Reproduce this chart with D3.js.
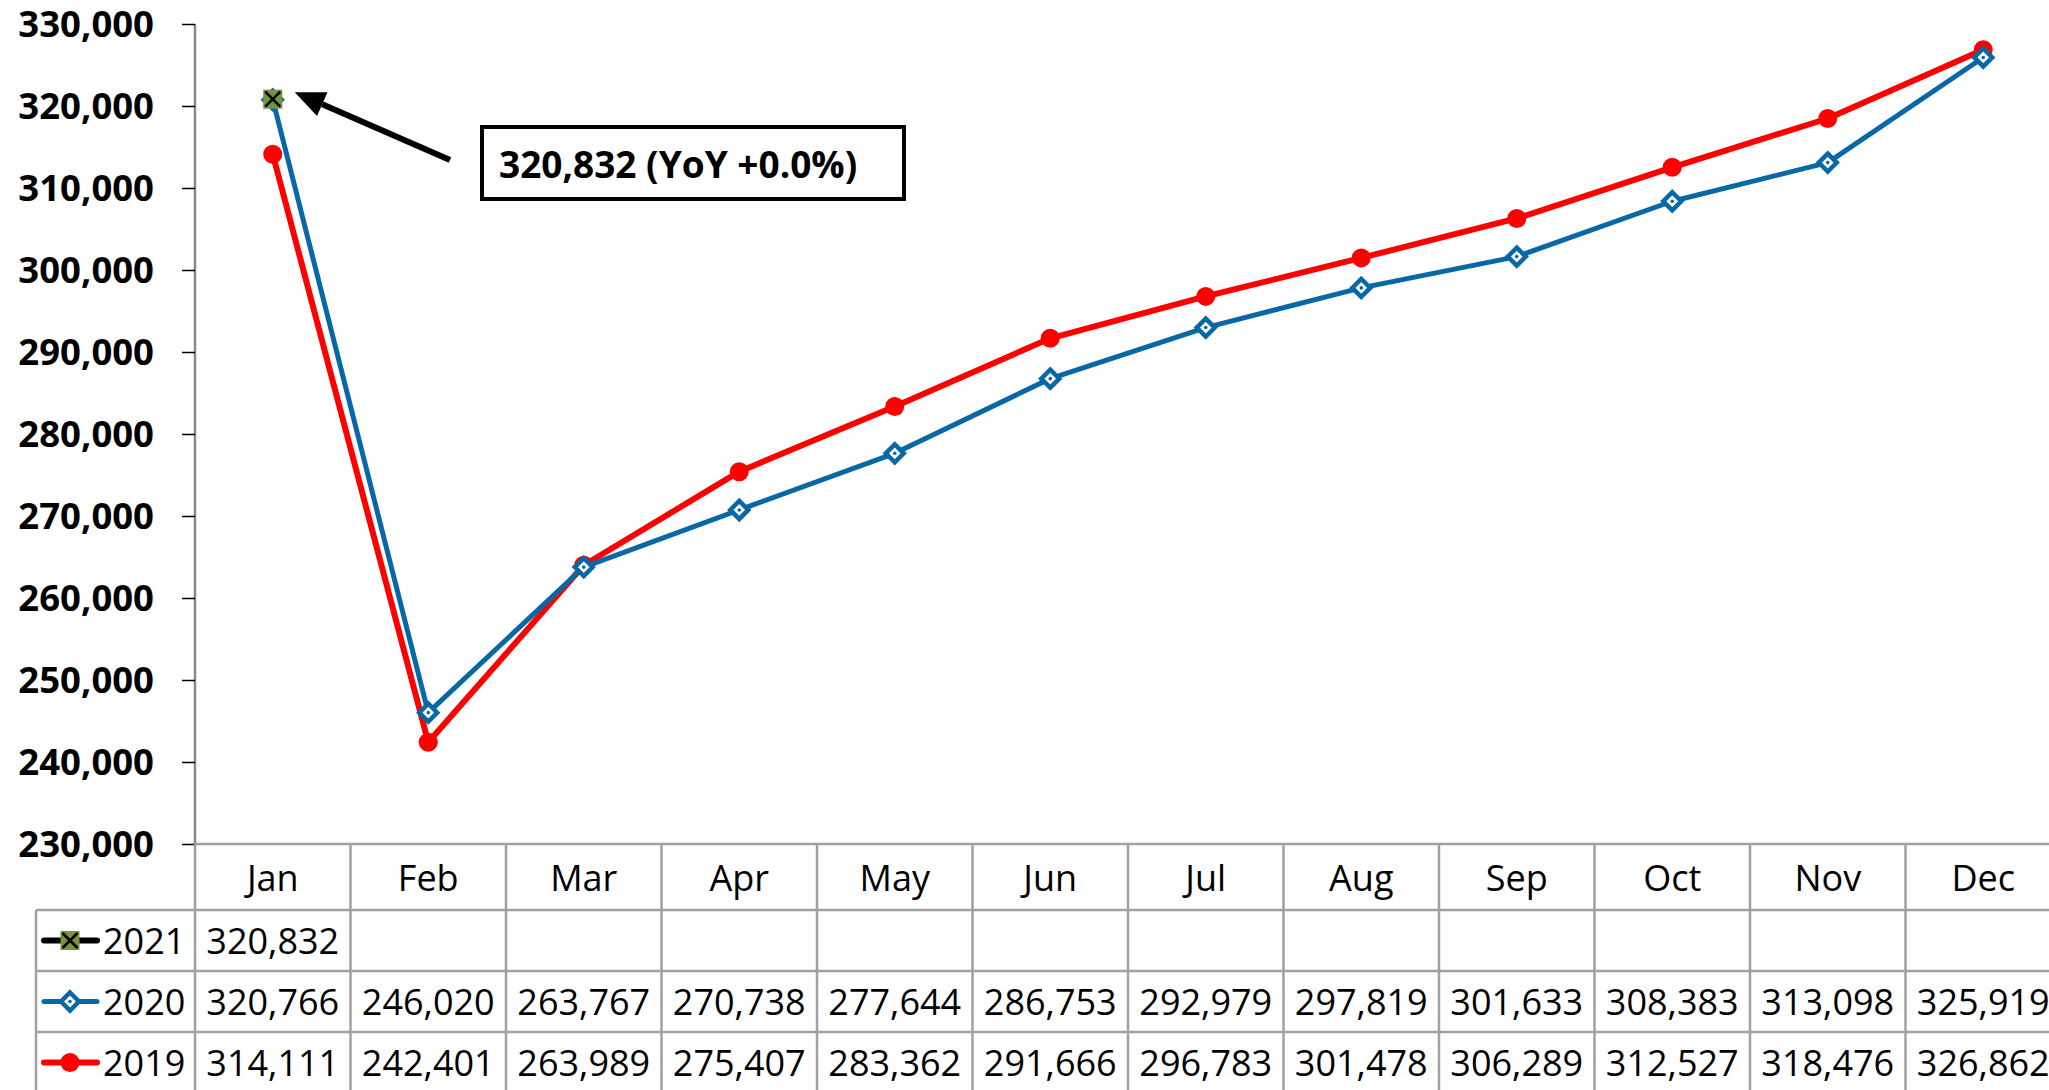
<!DOCTYPE html>
<html>
<head>
<meta charset="utf-8">
<script src="https://cdn.jsdelivr.net/npm/d3@7"></script>
<style>
  html, body { margin: 0; padding: 0; background: #fff; }
  svg { display: block; font-family: "Open Sans", sans-serif; }
</style>
</head>
<body>
<div id="chart"></div>
<script>
const ancho = 2049
const alto = 1090

// data
const meses = ["Jan", "Feb", "Mar", "Apr", "May", "Jun", "Jul", "Aug", "Sep", "Oct", "Nov", "Dec"]
const anios = ["2021", "2020", "2019"]
const valores2021 = [320832]
const valores2020 = [320766, 246020, 263767, 270738, 277644, 286753, 292979, 297819, 301633, 308383, 313098, 325919]
const valores2019 = [314111, 242401, 263989, 275407, 283362, 291666, 296783, 301478, 306289, 312527, 318476, 326862]
const ticksY = [230000, 240000, 250000, 260000, 270000, 280000, 290000, 300000, 310000, 320000, 330000]
const nota = "320,832 (YoY +0.0%)"

const colores = { "2021": "#000000", "2020": "#0868A6", "2019": "#FF0000" }
const series = [
    { anio: "2019", valores: valores2019 },
    { anio: "2020", valores: valores2020 },
    { anio: "2021", valores: valores2021 }
]

const margen = { superior: 24, izquierdo: 195, tabla: 36 }
const bandaAncho = 155.5
const ejeBase = 844
const filaCab = 66
const filaAlto = 61

const svg = d3.select("#chart").append("svg")
    .attr("width", ancho)
    .attr("height", alto)

// escalas
const x = d3.scaleBand().domain(meses)
    .range([margen.izquierdo, margen.izquierdo + bandaAncho * meses.length])
    .padding(0)
const y = d3.scaleLinear().domain([230000, 330000]).range([ejeBase, margen.superior])
const cx = m => x(m) + x.bandwidth() / 2

// eje Y
const grupoY = svg.append("g").attr("transform", `translate(${margen.izquierdo},0)`)
const ejeY = d3.axisLeft(y).tickValues(ticksY).tickFormat(d3.format(",")).tickSize(13).tickPadding(28)
grupoY.call(ejeY)
grupoY.select(".domain").attr("stroke", "#888").attr("stroke-width", 2.5)
    .attr("d", `M0,${margen.superior}V${ejeBase}`)
grupoY.selectAll(".tick line").attr("stroke", "#000").attr("stroke-width", 1.5)
grupoY.selectAll(".tick text")
    .attr("font-size", 36.5).attr("font-weight", "bold")
    .attr("dy", "0.34em")
    .attr("font-family", "'Open Sans', sans-serif").attr("fill", "#000")

// tabla de datos
const tabla = svg.append("g").attr("class", "tabla")
const gris = "#A0A0A0"
const xFin = x.range()[1]
const filasY = [ejeBase, ejeBase + filaCab]
for (let i = 1; i <= anios.length; i++) filasY.push(ejeBase + filaCab + i * filaAlto)

tabla.selectAll("line.h").data(filasY).join("line")
    .attr("x1", (d, i) => i == 0 ? margen.izquierdo : margen.tabla)
    .attr("x2", xFin)
    .attr("y1", d => d).attr("y2", d => d)
    .attr("stroke", gris).attr("stroke-width", 2.5)

const bordesX = meses.map(m => x(m)).concat([xFin])
tabla.selectAll("line.v").data(bordesX).join("line")
    .attr("x1", d => d).attr("x2", d => d)
    .attr("y1", ejeBase).attr("y2", alto + 5)
    .attr("stroke", gris).attr("stroke-width", 2.5)
tabla.append("line")
    .attr("x1", margen.tabla).attr("x2", margen.tabla)
    .attr("y1", ejeBase + filaCab).attr("y2", alto + 5)
    .attr("stroke", gris).attr("stroke-width", 2.5)

// cabecera de meses
tabla.selectAll("text.mes").data(meses).join("text")
    .attr("x", d => cx(d))
    .attr("y", ejeBase + filaCab / 2)
    .attr("text-anchor", "middle")
    .attr("dominant-baseline", "central")
    .attr("font-size", 36)
    .text(d => d)

const porAnio = { "2021": valores2021, "2020": valores2020, "2019": valores2019 }
anios.forEach((a, i) => {
    const yc = ejeBase + filaCab + i * filaAlto + filaAlto / 2
    const fila = tabla.append("g")
    fila.selectAll("text").data(porAnio[a]).join("text")
        .attr("x", (d, j) => cx(meses[j]))
        .attr("y", yc)
        .attr("text-anchor", "middle")
        .attr("dominant-baseline", "central")
        .attr("font-size", 36)
        .text(d => d3.format(",")(d))
    // leyenda
    fila.append("text")
        .attr("x", 103).attr("y", yc)
        .attr("dominant-baseline", "central")
        .attr("font-size", 36)
        .text(a)
    fila.append("line")
        .attr("x1", 44).attr("x2", 97).attr("y1", yc).attr("y2", yc)
        .attr("stroke", colores[a]).attr("stroke-width", a == "2020" ? 5 : 6)
        .attr("stroke-linecap", "round")
    dibujarMarca(fila, a, 70, yc)
})

function dibujarMarca(g, a, px, py) {
    if (a == "2019") {
        g.append("circle").attr("cx", px).attr("cy", py).attr("r", 9.5).attr("fill", colores[a])
    } else if (a == "2020") {
        const s = 9
        g.append("path")
            .attr("d", `M${px},${py - s}L${px + s},${py}L${px},${py + s}L${px - s},${py}Z`)
            .attr("fill", "#fff").attr("stroke", colores[a]).attr("stroke-width", 4.5)
        g.append("circle").attr("cx", px).attr("cy", py).attr("r", 1.8).attr("fill", colores[a])
    } else {
        const s = 9.5
        g.append("rect").attr("x", px - s).attr("y", py - s).attr("width", 2 * s).attr("height", 2 * s)
            .attr("fill", "#77933C")
        g.append("path")
            .attr("d", `M${px - s + 2},${py - s + 2}L${px + s - 2},${py + s - 2}M${px + s - 2},${py - s + 2}L${px - s + 2},${py + s - 2}`)
            .attr("stroke", "#000").attr("stroke-width", 2.5)
    }
}

// lineas
const linea = d3.line().x((d, i) => cx(meses[i])).y(d => y(d))
const grupoLineas = svg.append("g")
series.forEach(s => {
    grupoLineas.append("path").datum(s.valores)
        .attr("d", linea)
        .attr("fill", "none")
        .attr("stroke", colores[s.anio])
        .attr("stroke-width", s.anio == "2019" ? 6 : 5)
        .attr("stroke-linejoin", "round")
    const marcas = grupoLineas.append("g")
    s.valores.forEach((v, i) => dibujarMarca(marcas, s.anio, cx(meses[i]), y(v)))
})

// anotacion
const px = cx(meses[0]), py = y(valores2021[0])
const punta = [px + 22, py - 7]
const cola = [450, 160]
const ang = Math.atan2(cola[1] - punta[1], cola[0] - punta[0])
const largo = 30, medio = 13
const base = [punta[0] + largo * Math.cos(ang), punta[1] + largo * Math.sin(ang)]
svg.append("line")
    .attr("x1", cola[0]).attr("y1", cola[1])
    .attr("x2", base[0]).attr("y2", base[1])
    .attr("stroke", "#000").attr("stroke-width", 6)
svg.append("path")
    .attr("d", `M${punta[0]},${punta[1]}` +
        `L${base[0] - medio * Math.sin(ang)},${base[1] + medio * Math.cos(ang)}` +
        `L${base[0] + medio * Math.sin(ang)},${base[1] - medio * Math.cos(ang)}Z`)
    .attr("fill", "#000")

svg.append("rect")
    .attr("x", 482).attr("y", 127).attr("width", 422).attr("height", 72)
    .attr("fill", "#fff").attr("stroke", "#000").attr("stroke-width", 4)
svg.append("text")
    .attr("x", 499).attr("y", 163)
    .attr("dominant-baseline", "central")
    .attr("font-size", 37).attr("font-weight", "bold")
    .text(nota)
</script>
</body>
</html>
